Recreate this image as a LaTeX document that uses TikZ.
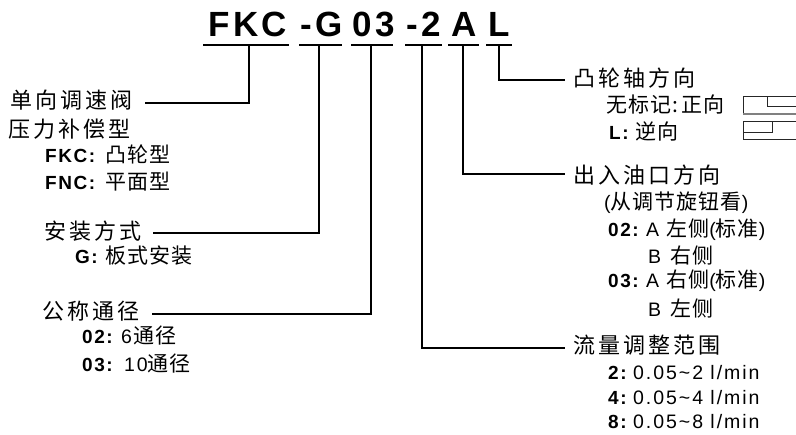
\documentclass[tikz,border=0pt]{standalone}
\usepackage{fontspec}
\setmainfont{Liberation Sans}
\newfontfamily\cjkHead{Noto Sans CJK SC}[LetterSpace=14]
\newfontfamily\cjkSub{Noto Sans CJK SC}[LetterSpace=5]
\newfontfamily\latB{Liberation Sans}[LetterSpace=10,BoldFont={Liberation Sans Bold}]
\newfontfamily\latBl{Liberation Sans}[LetterSpace=8,BoldFont={Liberation Sans Bold}]
\newfontfamily\latBig{Liberation Sans}[LetterSpace=10,BoldFont={Liberation Sans Bold}]
\newcommand{\hd}[1]{{\fontsize{22}{26}\selectfont\cjkHead #1}}
\newcommand{\sbc}[1]{{\fontsize{21}{25}\selectfont\cjkSub #1}}
\newcommand{\bl}[1]{{\fontsize{19}{22}\selectfont\latBl\bfseries #1}}
\newcommand{\rg}[1]{{\fontsize{19.5}{22}\selectfont\latB #1}}
\newcommand{\bigt}[1]{{\fontsize{35}{40}\selectfont\latBig\bfseries #1}}
\tikzset{
  txt/.style={anchor=base west,inner sep=0pt,text=black},
  lefthead/.style={anchor=east,inner ysep=0pt,inner xsep=0pt,text=black},
  righthead/.style={anchor=west,inner ysep=0pt,inner xsep=8pt,text=black},
  uline/.style={line width=1.8pt,black},
  conn/.style={line width=1.4pt,black,line join=miter},
  icon/.style={line width=1pt,black!85}
}
\begin{document}
\begin{tikzpicture}[x=1pt,y=-1pt]
\useasboundingbox (0,0) rectangle (796,435);
% heading
\node[txt] (hFKC) at (208,37) {\bigt{FKC}};
\node[txt] (hG) at (300,37) {\bigt{-G}};
\node[txt] (h03) at (352,37) {\bigt{03}};
\node[txt] (h2) at (406,37) {\bigt{-2}};
\node[txt] (hA) at (451,37) {\bigt{A}};
\node[txt] (hL) at (488,37) {\bigt{L}};
% underlines
\coordinate (uFKCa) at (203,45); \coordinate (uFKCb) at (289,45); \coordinate (uFKC) at (249,45);
\coordinate (uGa) at (299,45); \coordinate (uGb) at (342,45); \coordinate (uG) at (319,45);
\coordinate (u03a) at (351,45); \coordinate (u03b) at (393,45); \coordinate (u03) at (371,45);
\coordinate (u2a) at (405,45); \coordinate (u2b) at (442,45); \coordinate (u2) at (422,45);
\coordinate (uAa) at (448,45); \coordinate (uAb) at (479,45); \coordinate (uA) at (463,45);
\coordinate (uLa) at (486,45); \coordinate (uLb) at (512,45); \coordinate (uL) at (499,45);
\foreach \u in {FKC,G,03,2,A,L}{\draw[uline] (u\u a) -- (u\u b);}
% left column
\node[lefthead] (lA) at (133,100) {\hd{单向调速阀}};
\node[txt] (lA2) at (8,138) {\hd{压力补偿型}};
\node[txt] (lA3) at (45,163) {\bl{FKC:}};
\node[txt] (lA3b) at (105,163) {\sbc{凸轮型}};
\node[txt] (lA4) at (45,190) {\bl{FNC:}};
\node[txt] (lA4b) at (105,190) {\sbc{平面型}};
\node[lefthead] (lB) at (142,231) {\hd{安装方式}};
\node[txt] (lB2) at (75,264) {\bl{G:}};
\node[txt] (lB2b) at (105,264) {\sbc{板式安装}};
\node[lefthead] (lC) at (140,311) {\hd{公称通径}};
\node[txt] (lC2) at (82,344) {\bl{02:}};
\node[txt] (lC2b) at (121,344) {\rg{6}};
\node[txt] (lC2c) at (133,344) {\sbc{通径}};
\node[txt] (lC3) at (82,372) {\bl{03:}};
\node[txt] (lC3b) at (124,372) {\rg{10}};
\node[txt] (lC3c) at (147,372) {\sbc{通径}};
% right column
\node[righthead] (rA) at (565,78) {\hd{凸轮轴方向}};
\node[txt] (rA1) at (606,113) {\sbc{无标记:\,正向}};
\node[txt] (rA2) at (609,140) {\bl{L:}};
\node[txt] (rA2b) at (635,140) {\sbc{逆向}};
\node[righthead] (rB) at (565,175) {\hd{出入油口方向}};
\node[txt] (rB1) at (604,210) {\rg{(}\sbc{从调节旋钮看}\rg{)}};
\node[txt] (rB2) at (608,237) {\bl{02:}};
\node[txt] (rB2b) at (646,237) {\rg{A}};
\node[txt] (rB2c) at (666,237) {\sbc{左侧}\rg{(}\sbc{标准}\rg{)}};
\node[txt] (rB3) at (648,264) {\rg{B}};
\node[txt] (rB3b) at (670,264) {\sbc{右侧}};
\node[txt] (rB4) at (608,288) {\bl{03:}};
\node[txt] (rB4b) at (646,288) {\rg{A}};
\node[txt] (rB4c) at (666,288) {\sbc{右侧}\rg{(}\sbc{标准}\rg{)}};
\node[txt] (rB5) at (648,317) {\rg{B}};
\node[txt] (rB5b) at (670,317) {\sbc{左侧}};
\node[righthead] (rC) at (565,345) {\hd{流量调整范围}};
\node[txt] (rC1) at (608,380) {\bl{2:}};
\node[txt] (rC1b) at (633,380) {\rg{0.05\char`\~2 l/min}};
\node[txt] (rC2) at (608,405) {\bl{4:}};
\node[txt] (rC2b) at (633,405) {\rg{0.05\char`\~4 l/min}};
\node[txt] (rC3) at (608,429) {\bl{8:}};
\node[txt] (rC3b) at (633,429) {\rg{0.05\char`\~8 l/min}};
% connectors
\draw[conn] (uFKC) |- ([shift={(12pt,-3pt)}]lA.east);
\draw[conn] (uG) |- ([shift={(11pt,-2pt)}]lB.east);
\draw[conn] (u03) |- ([shift={(12pt,-3pt)}]lC.east);
\draw[conn] (u2) |- ([yshift=-3pt]rC.west);
\draw[conn] (uA) |- ([yshift=1pt]rB.west);
\draw[conn] (uL) |- ([yshift=-2pt]rA.west);
% icons
\draw[icon] (796,97) -- (743,97) -- (743,114);
\draw[icon] (767,97) -- (767,107) -- (796,107);
\draw[line width=1.6pt,black!50] (743,114) -- (796,114);
\draw[icon] (796,122) -- (743,122) -- (743,140) -- (796,140);
\draw[icon] (743,133) -- (772,133) -- (772,122);
\end{tikzpicture}
\end{document}
